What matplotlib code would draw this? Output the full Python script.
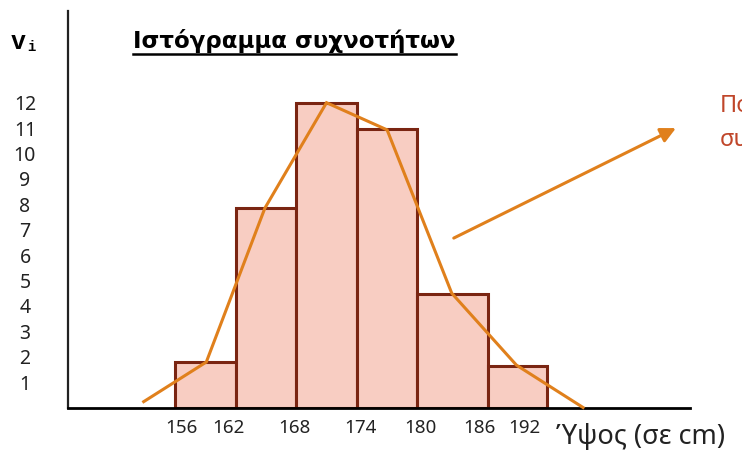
import matplotlib
matplotlib.use("Agg")
import matplotlib.pyplot as plt
from matplotlib.lines import Line2D
import numpy as np

# ---- data ----
bin_edges = [156, 162, 168, 174, 180, 187, 192.8]
frequencies = [1.8, 7.85, 12, 10.95, 4.45, 1.65]
poly_x = [152.9, 159.1, 164.9, 171.0, 177.0, 183.4, 189.8, 196.4]
poly_y = [0.23, 1.79, 7.85, 12.0, 10.93, 4.5, 1.67, 0.0]
xtick_pos = [156.6, 161.25, 167.85, 174.4, 180.3, 186.1, 190.55]
xtick_labels = ["156", "162", "168", "174", "180", "186", "192"]
ytick_vals = list(range(1, 13))

title = "Ιστόγραμμα συχνοτήτων"
xlabel = "Ύψος (σε cm)"
side_text = ["Πολύγωνο", "συχνοτήτων"]

W, H = 742, 450
fig = plt.figure(figsize=(W / 100, H / 100), dpi=100)
plt.rcParams['font.family'] = ['Noto Sans', 'DejaVu Sans']

# axes placed in pixel terms: left 68, right 690, bottom 407.5, top 11
ax_l, ax_r, ax_b, ax_t = 68, 690, 407.5, 11
ax = fig.add_axes([ax_l / W, (H - ax_b) / H, (ax_r - ax_l) / W, (ax_b - ax_t) / H])

px_per_cm = 10.1
px_per_unit = 25.4
xmin = 156 - (175 - ax_l) / px_per_cm
xmax = 156 + (ax_r - 175) / px_per_cm
ymax = (ax_b - ax_t) / px_per_unit
ax.set_xlim(xmin, xmax)
ax.set_ylim(0, ymax)

bar_fill = "#f8cdc2"
bar_edge = "#7a2512"
orange = "#e0801c"

lefts = bin_edges[:-1]
widths = np.diff(bin_edges)
ax.bar(lefts, frequencies, width=widths, align="edge", color=bar_fill,
       edgecolor=bar_edge, linewidth=2.2, zorder=2)
ax.plot(poly_x, poly_y, color=orange, linewidth=2.2, zorder=3,
        solid_joinstyle="miter", clip_on=False)

for s in ["top", "right"]:
    ax.spines[s].set_visible(False)
ax.spines["left"].set_linewidth(1.6)
ax.spines["bottom"].set_linewidth(2.0)
ax.spines["left"].set_color("#222222")
ax.spines["bottom"].set_color("#000000")

ax.set_xticks(xtick_pos)
ax.set_xticklabels(xtick_labels)
ax.set_yticks(ytick_vals)
ax.set_yticklabels([str(v) for v in ytick_vals], ha="center")
ax.tick_params(axis="x", length=0, pad=8, labelsize=13.5, labelcolor="#222222")
ax.tick_params(axis="y", length=0, pad=31, labelsize=14, labelcolor="#222222")

# arrow annotation
ax.annotate("", xy=(205.6, 11.0), xytext=(183.6, 6.67),
            arrowprops=dict(arrowstyle="-|>,head_length=0.9,head_width=0.45",
                            color=orange, lw=2.2, shrinkA=0, shrinkB=0),
            annotation_clip=False)

# y label "v_i"
fig.text(11 / W, 1 - 42 / H, "v", family="Liberation Mono", fontweight="bold",
         fontsize=18, va="center", ha="left")
fig.text(27 / W, 1 - 47 / H, "i", family="Liberation Mono", fontweight="bold",
         fontsize=10, va="center", ha="left")

# title with underline, sized to the reference width
t = fig.text(133 / W, 1 - 41 / H, title, fontsize=16, fontweight="bold",
             family="DejaVu Sans", va="center", ha="left")
fig.canvas.draw()
r = fig.canvas.get_renderer()
bb = t.get_window_extent(r)
t.set_fontsize(16 * 322 / bb.width)
fig.canvas.draw()
bb = t.get_window_extent(r)
uy = 1 - 54 / H
fig.add_artist(Line2D([bb.x0 / W, bb.x1 / W], [uy, uy], color="black", lw=1.8,
                      transform=fig.transFigure))

# x label
fig.text(556 / W, 1 - 437 / H, xlabel, fontsize=19.5, va="center", ha="left",
         color="#222222")

# side text (cut off at right edge, as in the reference)
fig.text(720 / W, 1 - 106 / H, side_text[0], fontsize=17, va="center",
         ha="left", color="#c0462a")
fig.text(720 / W, 1 - 140 / H, side_text[1], fontsize=17, va="center",
         ha="left", color="#c0462a")

fig.savefig("out.png", dpi=100)
